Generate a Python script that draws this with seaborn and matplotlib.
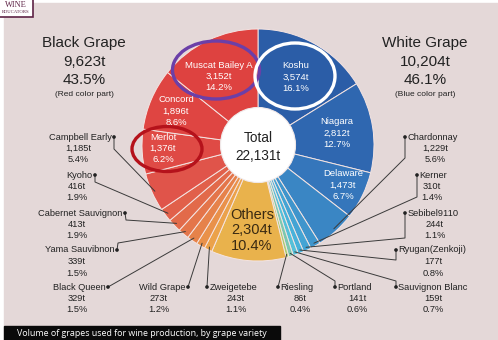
import numpy as np
import matplotlib
matplotlib.use("Agg")
import matplotlib.pyplot as plt
import seaborn as sns
from matplotlib.patches import Ellipse, Rectangle, Circle

sns.set_theme(style="white")
plt.rcParams['font.family'] = ['Liberation Sans', 'DejaVu Sans']

# ---- data (clockwise from 12 o'clock) ----
varieties = ["Koshu", "Niagara", "Delaware", "Chardonnay", "Kerner", "Sebibel9110",
             "Ryugan(Zenkoji)", "Sauvignon Blanc", "Portland", "Riesling", "Others",
             "Zweigetebe", "Wild Grape", "Black Queen", "Yama Sauvibnon",
             "Cabernet Sauvignon", "Kyoho", "Campbell Early", "Merlot", "Concord",
             "Muscat Bailey A"]
tonnes = [3574, 2812, 1473, 1229, 310, 244, 177, 159, 141, 86, 2304,
          243, 273, 329, 339, 413, 416, 1185, 1376, 1896, 3152]
shares = [16.1, 12.7, 6.7, 5.6, 1.4, 1.1, 0.8, 0.7, 0.6, 0.4, 10.4,
          1.1, 1.2, 1.5, 1.5, 1.9, 1.9, 5.4, 6.2, 8.6, 14.2]
colors = ["#2B5DA7", "#2F67B0", "#3576BB", "#3A86C4", "#3F95CC", "#44A4D4",
          "#48B2DA", "#55C0D8", "#7CC8B0", "#A8CC70", "#E9B24C",
          "#EBA24A", "#E9914A", "#E6824A", "#E4754A", "#E26A4A", "#E1604A",
          "#E0544A", "#DF4A45", "#DF4542", "#DE4240"]
group_names = ["Black Grape", "White Grape"]
group_tonnes = ["9,623t", "10,204t"]
group_shares = ["43.5%", "46.1%"]
group_notes = ["(Red color part)", "(Blue color part)"]
total_label = "22,131t"
caption = "Volume of grapes used for wine production, by grape variety"

# ---- layout (image pixel coordinates) ----
W, H = 498, 340
CX, CY, R, R_IN = 258, 145, 116, 37

inner_pos = {"Koshu": (296, 66), "Niagara": (337, 122), "Delaware": (343, 174),
             "Muscat Bailey A": (219, 65), "Concord": (176, 100), "Merlot": (163, 137)}

# name: (dot x, dot y, side, numbers centre x, elbow or None)
outer_pos = {
    "Campbell Early": (114, 137, "L", 78, (114, 149)),
    "Kyoho": (95, 175, "L", 77, (95, 182)),
    "Cabernet Sauvignon": (125, 213, "L", 77, (126, 220)),
    "Yama Sauvibnon": (117, 250, "L", 77, (118, 243)),
    "Black Queen": (108, 287, "L", 77, None),
    "Wild Grape": (188, 287, "L", 159, None),
    "Zweigetebe": (207, 287, "R", 236, None),
    "Riesling": (278, 287, "R", 300, None),
    "Portland": (335, 287, "R", 357, (335, 281)),
    "Sauvignon Blanc": (396, 287, "R", 433, (396, 281)),
    "Ryugan(Zenkoji)": (396, 250, "R", 433, (396, 260)),
    "Sebibel9110": (405, 213, "R", 435, (405, 238)),
    "Kerner": (417, 175, "R", 432, (417, 197)),
    "Chardonnay": (405, 137, "R", 435, (405, 158)),
}

fig = plt.figure(figsize=(W / 100, H / 100), dpi=100, facecolor="white")
ax = fig.add_axes([0, 0, 1, 1])
ax.set_facecolor("white")

# background panel
ax.add_patch(Rectangle((4, 3), W - 4, H - 3, color="#E4D8D8", zorder=0))

wedges, _ = ax.pie(tonnes, colors=colors, startangle=-90, counterclock=True,
                   radius=R, center=(CX, CY),
                   wedgeprops=dict(width=R - R_IN, edgecolor="#F4E4E2", linewidth=0.7))
ax.add_patch(Circle((CX, CY), R_IN + 0.5, facecolor="white", edgecolor="#F0E8E8",
                    linewidth=0.8, zorder=5))

ax.set_xlim(0, W)
ax.set_ylim(H, 0)
ax.set_aspect("equal")
ax.axis("off")

def fmt_t(v):
    return f"{v:,}t"

# inner labels
for name, (x, y) in inner_pos.items():
    i = varieties.index(name)
    for k, s in enumerate([name, fmt_t(tonnes[i]), f"{shares[i]}%"]):
        ax.text(x, y + k * 11.3, s, ha="center", va="center", fontsize=6.8,
                color="white", zorder=6)

# Others
io = varieties.index("Others")
for k, s in enumerate(["Others", fmt_t(tonnes[io]), f"{shares[io]}%"]):
    ax.text(252, 215 + k * 15.5, s, ha="center", va="center", fontsize=10.5,
            color="#3A2A12", zorder=6)

# Total
ax.text(CX, 138, "Total", ha="center", va="center", fontsize=9.8, color="#222222", zorder=6)
ax.text(CX, 156, total_label, ha="center", va="center", fontsize=9.8, color="#222222", zorder=6)

# group headers
for gx, n, t, p, note in zip([84, 425], group_names, group_tonnes, group_shares, group_notes):
    ax.text(gx, 43, n, ha="center", va="center", fontsize=11, color="#222222")
    ax.text(gx, 62, t, ha="center", va="center", fontsize=11, color="#222222")
    ax.text(gx, 80, p, ha="center", va="center", fontsize=11, color="#222222")
    ax.text(gx, 94, note, ha="center", va="center", fontsize=6, color="#222222")

# outer labels with leader lines
dot_x, dot_y = [], []
for name, (dx, dy, side, nx, elbow) in outer_pos.items():
    i = varieties.index(name)
    w = wedges[i]
    mid = np.deg2rad((w.theta1 + w.theta2) / 2)
    ex, ey = CX + (R - 3) * np.cos(mid), CY + (R - 3) * np.sin(mid)
    xs, ys = [dx], [dy]
    if elbow is not None:
        xs.append(elbow[0]); ys.append(elbow[1])
    xs.append(ex); ys.append(ey)
    ax.plot(xs, ys, color="#3A3A3A", lw=0.7, zorder=7)
    dot_x.append(dx); dot_y.append(dy)
    if side == "L":
        ax.text(dx - 2.5, dy, name, ha="right", va="center", fontsize=6.7, color="#222222")
    else:
        ax.text(dx + 2.5, dy, name, ha="left", va="center", fontsize=6.7, color="#222222")
    ax.text(nx, dy + 11.3, fmt_t(tonnes[i]), ha="center", va="center", fontsize=6.7, color="#222222")
    ax.text(nx, dy + 23, f"{shares[i]}%", ha="center", va="center", fontsize=6.7, color="#222222")

sns.scatterplot(x=dot_x, y=dot_y, ax=ax, s=7, color="#222222", edgecolor="none",
                zorder=8, legend=False)
ax.set_xlim(0, W)
ax.set_ylim(H, 0)
ax.axis("off")

# highlight ellipses
ax.add_patch(Ellipse((216, 70), 87, 58, fill=False, edgecolor="#6B3FA8", lw=2.4, zorder=9))
ax.add_patch(Ellipse((295, 76), 80, 66, fill=False, edgecolor="white", lw=2.4, zorder=9))
ax.add_patch(Ellipse((167, 149), 70, 45, fill=False, edgecolor="#B5121B", lw=2.4, zorder=9))

# caption bar
ax.add_patch(Rectangle((4, 326), 276, 16, color="#0A0A0A", zorder=9))
ax.text(17, 333.5, caption, ha="left", va="center", fontsize=6.4, color="white",
        family=["Open Sans", "DejaVu Sans"], zorder=10)

# logo
ax.add_patch(Rectangle((-2, -2), 35, 18.5, facecolor="white", edgecolor="#5E2346",
                       lw=1.2, zorder=10))
ax.text(16, 5, "WINE", ha="center", va="center", fontsize=6, color="#5E2346",
        family=["Liberation Serif", "DejaVu Serif"], zorder=11)
ax.text(16, 12, "EDUCATORS", ha="center", va="center", fontsize=3.4, color="#5E2346",
        family=["Liberation Serif", "DejaVu Serif"], zorder=11)

fig.savefig("out.png", dpi=100, facecolor="white")
